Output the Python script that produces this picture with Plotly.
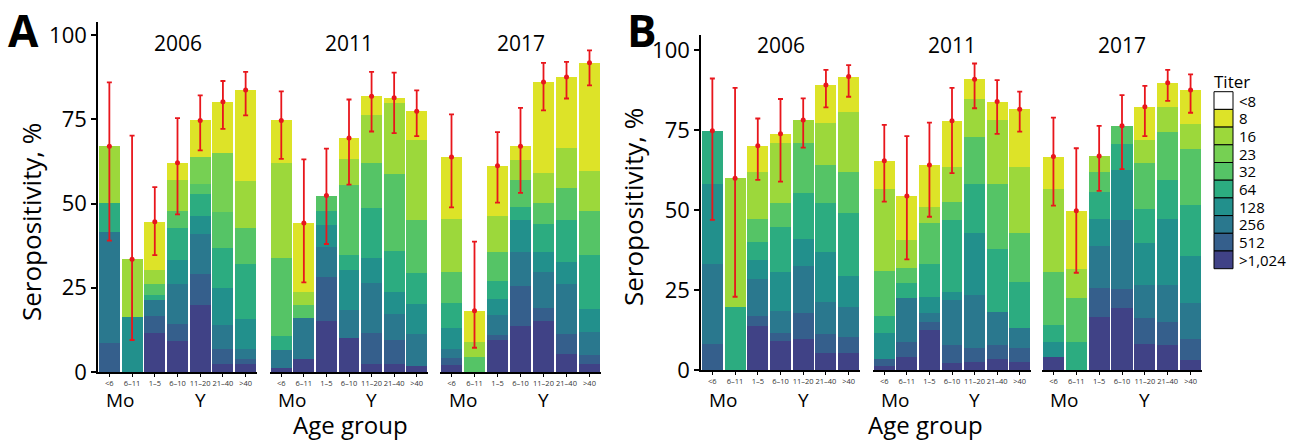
import plotly.graph_objects as go
from plotly.colors import sample_colorscale

W, H = 1301, 440


def px(x):
    return x / W


def py(y):
    return 1 - y / H


AGE_GROUPS = ["<6", "6–11", "1–5", "6–10", "11–20", "21–40", ">40"]
AGE_TICKTEXT = ["&lt;6", "6–11", "1–5", "6–10", "11–20", "21–40", "&gt;40"]
YEARS = ["2006", "2011", "2017"]
# titers stacked bottom -> top
TITERS = [">1,024", "512", "256", "128", "64", "32", "23", "16", "8"]
LEGEND_LABELS = ["&lt;8", "8", "16", "23", "32", "64", "128", "256", "512", "&gt;1,024"]

# ---- Panel A: seropositivity (%) by titer, rows follow TITERS, columns follow AGE_GROUPS
A_2006 = [
    [0, 0, 11.7, 9.2, 19.8, 2.3, 2.3],
    [8.5, 0, 5.0, 5.0, 9.3, 4.4, 1.5],
    [33.0, 0, 4.7, 11.9, 11.9, 7.2, 3.0],
    [0, 16.4, 0, 7.1, 5.2, 11.0, 8.9],
    [8.7, 0, 1.4, 9.7, 6.7, 11.8, 16.4],
    [0, 0, 3.2, 4.9, 2.8, 10.9, 10.6],
    [0, 0, 0, 0, 8.0, 17.4, 0],
    [16.8, 17.1, 4.4, 9.2, 0, 0, 14.0],
    [0, 0, 14.2, 5.1, 11.0, 15.2, 27.0],
]
A_2006_lo = [39.0, 9.5, 34.7, 46.8, 65.8, 72.2, 76.2]
A_2006_hi = [86.0, 70.2, 54.9, 75.4, 82.1, 86.4, 89.1]

A_2011 = [
    [1.3, 3.8, 15.2, 10.0, 2.5, 2.5, 1.8],
    [0, 0, 13.1, 0, 9.2, 6.9, 0],
    [5.1, 12.1, 8.7, 8.4, 14.6, 7.8, 9.4],
    [0, 0, 6.5, 12.0, 7.5, 6.6, 8.9],
    [4.3, 0, 4.4, 4.3, 14.9, 12.2, 9.3],
    [23.0, 4.0, 4.5, 20.7, 13.3, 22.8, 15.8],
    [0, 0, 0, 0, 0, 0, 0],
    [28.4, 3.9, 0, 7.9, 14.4, 21.2, 23.6],
    [12.6, 20.4, 0, 6.2, 5.5, 1.4, 8.6],
]
A_2011_lo = [63.3, 26.6, 38.0, 55.6, 71.4, 70.9, 70.0]
A_2011_hi = [83.3, 63.1, 66.3, 80.9, 89.1, 88.9, 83.6]

A_2017 = [
    [2.0, 0, 9.4, 13.7, 15.2, 5.3, 2.5],
    [2.3, 0, 1.5, 11.9, 3.9, 5.9, 2.5],
    [2.4, 0, 6.0, 9.9, 10.5, 14.9, 6.9],
    [6.5, 0, 4.9, 9.6, 5.9, 6.6, 6.9],
    [7.2, 0, 5.1, 4.0, 8.4, 12.4, 15.9],
    [9.2, 4.5, 8.6, 7.9, 6.3, 9.5, 13.0],
    [0, 0, 0, 0, 0, 0, 0],
    [15.8, 4.4, 10.7, 5.8, 8.9, 11.9, 12.1],
    [18.4, 9.3, 15.0, 4.2, 27.0, 21.1, 32.0],
]
A_2017_lo = [48.9, 7.2, 50.3, 53.2, 77.7, 81.2, 85.1]
A_2017_hi = [76.5, 38.7, 71.2, 78.4, 91.8, 92.1, 95.5]

# ---- Panel B
B_2006 = [
    [0, 0, 13.8, 9.2, 9.6, 5.4, 5.4],
    [8.0, 0, 3.1, 2.3, 8.1, 5.9, 4.8],
    [25.0, 0, 11.5, 6.9, 14.8, 10.1, 9.4],
    [25.0, 0, 6.0, 12.3, 8.6, 15.6, 9.8],
    [16.8, 19.6, 5.7, 14.1, 14.3, 15.3, 19.8],
    [0, 0, 7.0, 7.5, 15.6, 11.8, 12.8],
    [0, 0, 0, 0, 0, 0, 0],
    [0, 40.3, 14.7, 18.8, 7.1, 13.0, 18.7],
    [0, 0, 8.3, 2.7, 0, 12.0, 11.0],
]
B_2006_lo = [46.9, 22.9, 59.4, 58.9, 69.5, 82.1, 85.4]
B_2006_hi = [91.1, 88.2, 78.6, 84.7, 84.9, 93.8, 95.3]

B_2011 = [
    [1.3, 4.2, 12.5, 2.1, 2.6, 3.3, 2.6],
    [2.0, 4.7, 2.6, 5.7, 4.2, 4.5, 4.2],
    [0, 13.5, 2.8, 14.1, 16.6, 10.4, 6.2],
    [8.2, 0, 4.8, 2.6, 19.5, 0, 0],
    [5.5, 4.7, 10.4, 22.4, 15.2, 19.5, 14.6],
    [13.9, 4.7, 12.7, 5.7, 14.8, 20.4, 15.1],
    [0, 0, 0, 0, 0, 0, 0],
    [25.7, 8.8, 5.2, 10.9, 11.8, 20.0, 20.8],
    [8.8, 13.8, 13.1, 14.4, 6.2, 5.8, 18.0],
]
B_2011_lo = [52.6, 34.6, 47.9, 61.5, 81.8, 73.8, 74.5]
B_2011_hi = [76.6, 73.1, 77.3, 88.2, 95.8, 90.6, 87.0]

B_2017 = [
    [4.2, 0, 16.5, 19.3, 8.1, 7.8, 3.1],
    [0, 0, 9.0, 5.9, 8.3, 7.3, 6.5],
    [0, 0, 13.3, 21.7, 10.2, 11.5, 11.2],
    [4.7, 0, 8.3, 15.6, 13.2, 20.5, 14.8],
    [5.2, 8.9, 8.6, 8.0, 10.4, 12.3, 16.0],
    [16.6, 13.5, 6.3, 5.8, 14.6, 14.9, 17.5],
    [0, 0, 0, 0, 0, 0, 0],
    [25.9, 9.1, 4.9, 0, 7.1, 7.8, 7.8],
    [10.1, 18.3, 0, 0, 10.4, 7.7, 10.6],
]
B_2017_lo = [51.4, 30.4, 56.0, 62.8, 73.1, 84.1, 80.4]
B_2017_hi = [78.9, 69.3, 76.3, 85.9, 88.8, 93.8, 92.4]

# ---- styling
COLOR_POS = [0.2, 0.3, 0.4, 0.5, 0.62, 0.73, 0.79, 0.85, 0.95]
COLORS = sample_colorscale("Viridis", COLOR_POS)
ERR_COLOR = "rgb(232,22,28)"
FONT = "Open Sans"

facets = [
    # table, lo, hi, x-domain px, xaxis id, yaxis id, year
    (A_2006, A_2006_lo, A_2006_hi, (98, 257), "x", "y", YEARS[0]),
    (A_2011, A_2011_lo, A_2011_hi, (270, 428), "x2", "y", YEARS[1]),
    (A_2017, A_2017_lo, A_2017_hi, (440, 601), "x3", "y", YEARS[2]),
    (B_2006, B_2006_lo, B_2006_hi, (701, 860), "x4", "y2", YEARS[0]),
    (B_2011, B_2011_lo, B_2011_hi, (873, 1031), "x5", "y2", YEARS[1]),
    (B_2017, B_2017_lo, B_2017_hi, (1042, 1202), "x6", "y2", YEARS[2]),
]


def text(t, x, y, size, xref="paper", xanchor="center", angle=0):
    return dict(text=t, x=x, y=y, xref=xref, yref="paper", xanchor=xanchor, yanchor="middle",
                textangle=angle, showarrow=False,
                font=dict(size=size, color="black", family=FONT))


fig = go.Figure()
layout = {}
annotations = []

for idx, (table, lo, hi, (x0, x1), xa, ya, year) in enumerate(facets):
    for t, row in enumerate(table):
        fig.add_trace(go.Bar(
            x=AGE_GROUPS, y=row, xaxis=xa, yaxis=ya,
            marker=dict(color=COLORS[t], line=dict(width=0)),
            name=TITERS[t], showlegend=False,
        ))
    totals = [round(sum(table[t][i] for t in range(len(table))), 1) for i in range(len(AGE_GROUPS))]
    fig.add_trace(go.Scatter(
        x=AGE_GROUPS, y=totals, xaxis=xa, yaxis=ya, mode="markers",
        marker=dict(color=ERR_COLOR, size=5),
        error_y=dict(type="data", symmetric=False,
                     array=[h - v for h, v in zip(hi, totals)],
                     arrayminus=[v - l for l, v in zip(lo, totals)],
                     color=ERR_COLOR, thickness=1.8, width=2.5),
        showlegend=False,
    ))
    key = "xaxis" if xa == "x" else "xaxis" + xa[1:]
    layout[key] = dict(
        domain=[px(x0), px(x1)], anchor=ya, type="category",
        categoryorder="array", categoryarray=AGE_GROUPS,
        tickmode="array", tickvals=AGE_GROUPS, ticktext=AGE_TICKTEXT, tickangle=0,
        range=[-0.5, 6.5], showline=True, linecolor="black", linewidth=2,
        ticks="outside", ticklen=3, tickwidth=1, tickcolor="black",
        tickfont=dict(size=7.5, color="#333", family=FONT),
        showgrid=False, zeroline=False, fixedrange=True, automargin=False,
    )
    top_y = 43 if ya == "y" else 45
    annotations.append(text(year, px((x0 + x1) / 2), py(top_y), 21))
    annotations.append(text("Mo", 0.5, py(400), 19, xref=xa))
    annotations.append(text("Y", 4, py(400), 19, xref=xa))

yaxis_common = dict(
    showline=True, linecolor="black", linewidth=1.5,
    ticks="outside", ticklen=5, tickwidth=1.5, tickcolor="black",
    tickvals=[0, 25, 50, 75, 100], tickfont=dict(size=22, color="black", family=FONT),
    showgrid=False, zeroline=False, fixedrange=True, automargin=False,
)
layout["yaxis"] = dict(domain=[py(372), py(21.7)], range=[0, 104], anchor="x", **yaxis_common)
layout["yaxis2"] = dict(domain=[py(370), py(35)], range=[0, 104.7], anchor="x4", **yaxis_common)

# axis titles and panel letters
annotations += [
    text("Seropositivity, %", px(31), py(222), 26, angle=-90),
    text("Seropositivity, %", px(633), py(207), 26, angle=-90),
    text("Age group", px(350), py(424), 24),
    text("Age group", px(926), py(424), 24),
    text("<b>A</b>", px(23), py(30), 44),
    text("<b>B</b>", px(642), py(30), 44),
]

# legend (drawn boxes + text)
shapes = []
leg_x0, leg_x1 = 1214, 1233
leg_top, box_h = 91.7, 17.7
legend_colors = ["white"] + COLORS[::-1]
for i, (lab, col) in enumerate(zip(LEGEND_LABELS, legend_colors)):
    y0 = leg_top + i * box_h
    shapes.append(dict(type="rect", xref="paper", yref="paper",
                       x0=px(leg_x0), x1=px(leg_x1), y0=py(y0 + box_h), y1=py(y0),
                       fillcolor=col, line=dict(color="black", width=1)))
    annotations.append(text(lab, px(1237), py(y0 + box_h / 2), 15, xanchor="left"))
annotations.append(text("Titer", px(1212), py(81), 17, xanchor="left"))

fig.update_layout(
    width=W, height=H, autosize=False,
    margin=dict(l=0, r=0, t=0, b=0, pad=0),
    paper_bgcolor="white", plot_bgcolor="white",
    barmode="stack", bargap=0.08,
    annotations=annotations, shapes=shapes,
    font=dict(family=FONT, color="black"),
    **layout,
)

fig.write_html("out.html", config={"displayModeBar": False},
               post_script="document.body.style.margin='0px';")
